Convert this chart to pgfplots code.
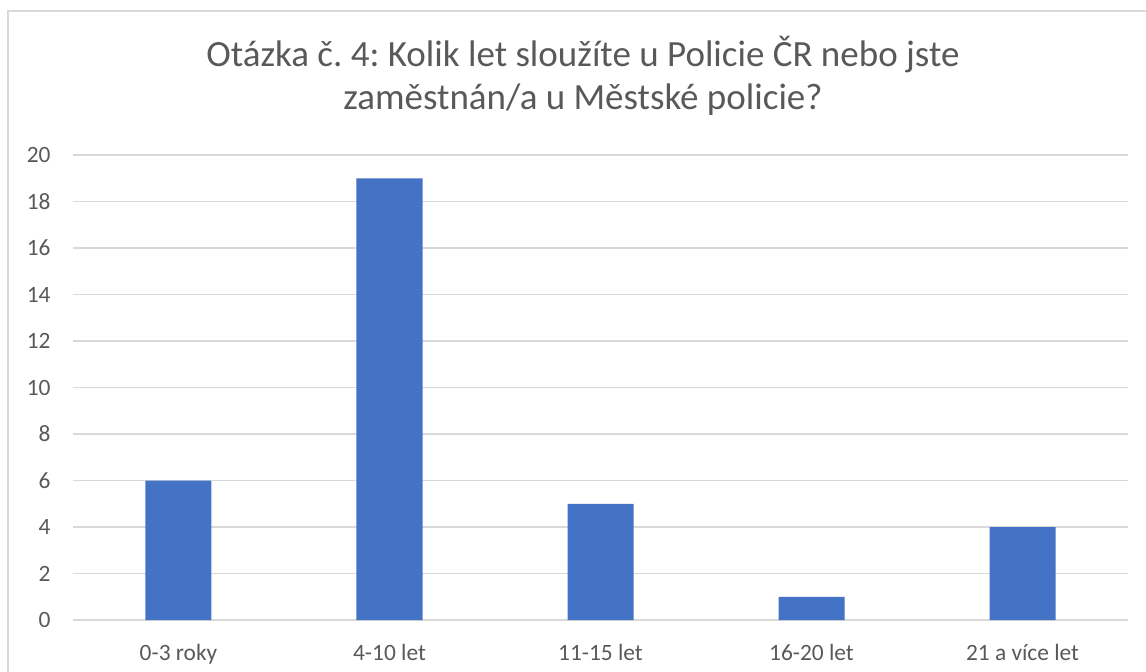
\documentclass[border=0pt]{standalone}
\usepackage{fontspec}
\setmainfont{Carlito}
\usepackage{pgfplots}
\pgfplotsset{compat=1.18}
\definecolor{barblue}{HTML}{4472C4}
\definecolor{gridgray}{HTML}{D9D9D9}
\definecolor{textgray}{HTML}{595959}
\frenchspacing
\begin{document}
\begin{tikzpicture}
\useasboundingbox (-36.5pt,-25.5pt) rectangle (536.5pt,310pt);
\draw[gridgray, line width=0.6pt] (-32.5pt,-26pt) -- (-32.5pt,304.5pt) -- (537pt,304.5pt);
\begin{axis}[
  at={(0,0)}, anchor=south west,
  scale only axis, width=527.5pt, height=232.5pt,
  ybar, bar width=33pt, bar shift=0pt,
  xmin=-0.5, xmax=4.5, ymin=0, ymax=20,
  xtick=data,
  xticklabels={0-3 roky,4-10 let,11-15 let,16-20 let,21 a více let},
  ytick={0,2,...,20},
  major tick length=0pt,
  axis line style={draw=none},
  ymajorgrids, grid style={gridgray, line width=0.65pt},
  tick label style={textgray, font=\fontsize{11.7pt}{13.5pt}\selectfont},
  /pgf/number format/assume math mode=true,
  yticklabel style={anchor=east, inner sep=0pt, xshift=-11pt},
  xticklabel style={anchor=north, inner sep=0pt, yshift=-12pt},
]
\addplot[fill=barblue, draw=none] coordinates {(0,6) (1,19) (2,5) (3,1) (4,4)};
\end{axis}
\node[anchor=base, textgray, font=\fontsize{18.5pt}{22pt}\selectfont] at (255pt,276.5pt) {Otázka č. 4: Kolik let sloužíte u Policie ČR nebo jste};
\node[anchor=base, textgray, font=\fontsize{18.5pt}{22pt}\selectfont] at (255pt,255pt) {zaměstnán/a u Městské policie?};
\end{tikzpicture}
\end{document}
